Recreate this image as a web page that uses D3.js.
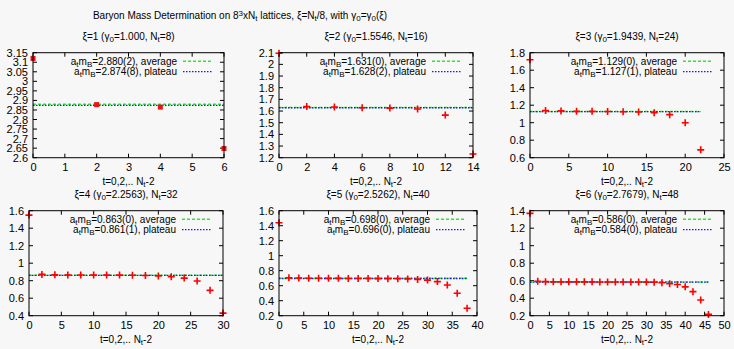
<!DOCTYPE html>
<html><head><meta charset="utf-8">
<script src="https://cdn.jsdelivr.net/npm/d3@7"></script>
<style>
body{margin:0;background:#f7f7f7;}
svg{display:block;font-family:"Liberation Sans",Arial,sans-serif;}
</style></head><body>
<svg id="c" width="734" height="349"></svg>
<script>
// ---- data ----
const xi = [1, 2, 3, 4, 5, 6];
const gamma0 = ["1.000", "1.5546", "1.9439", "2.2563", "2.5262", "2.7679"];
const Nt = [8, 16, 24, 32, 40, 48];
const avgVal = [2.880, 1.631, 1.129, 0.863, 0.698, 0.586];
const avgLabel = ["2.880(2)", "1.631(0)", "1.129(0)", "0.863(0)", "0.698(0)", "0.586(0)"];
const platVal = [2.874, 1.628, 1.127, 0.861, 0.696, 0.584];
const platLabel = ["2.874(8)", "1.628(2)", "1.127(1)", "0.861(1)", "0.696(0)", "0.584(0)"];

const mass1 = [3.12, 2.878, 2.865, 2.648];
const mass2 = [2.095, 1.638, 1.635, 1.628, 1.625, 1.617, 1.565, 1.232];
const mass3 = [1.72, 1.14, 1.135, 1.13, 1.13, 1.128, 1.126, 1.122, 1.115, 1.092, 1.0, 0.69];
const mass4 = [1.55, 0.872, 0.867, 0.866, 0.865, 0.865, 0.864, 0.864, 0.862, 0.86, 0.855, 0.846, 0.83, 0.797, 0.69, 0.43];
const mass5 = [1.44, 0.705, 0.703, 0.70, 0.699, 0.698, 0.698, 0.697, 0.697, 0.696, 0.695, 0.694, 0.693, 0.689, 0.684, 0.675, 0.655, 0.61, 0.50, 0.30];
const mass6 = [1.37, 0.593, 0.589, 0.588, 0.587, 0.587, 0.587, 0.587, 0.587, 0.586, 0.586, 0.586, 0.586, 0.586, 0.585, 0.584, 0.583, 0.576, 0.566, 0.556, 0.53, 0.475, 0.38, 0.215];
const masses = [mass1, mass2, mass3, mass4, mass5, mass6];

const xTicks = [
  [0, 1, 2, 3, 4, 5, 6],
  [0, 2, 4, 6, 8, 10, 12, 14],
  [0, 5, 10, 15, 20, 25],
  [0, 5, 10, 15, 20, 25, 30],
  [0, 5, 10, 15, 20, 25, 30, 35, 40],
  [0, 5, 10, 15, 20, 25, 30, 35, 40, 45, 50]
];
const yTicks = [
  [2.6, 2.65, 2.7, 2.75, 2.8, 2.85, 2.9, 2.95, 3, 3.05, 3.1, 3.15],
  [1.2, 1.3, 1.4, 1.5, 1.6, 1.7, 1.8, 1.9, 2, 2.1],
  [0.6, 0.8, 1, 1.2, 1.4, 1.6, 1.8],
  [0.4, 0.6, 0.8, 1, 1.2, 1.4, 1.6],
  [0.2, 0.4, 0.6, 0.8, 1, 1.2, 1.4, 1.6],
  [0.2, 0.4, 0.6, 0.8, 1, 1.2, 1.4]
];

// ---- layout ----
const rects = [
  {l: 33, r: 224, t: 52.7, b: 157.7},
  {l: 279, r: 473, t: 52.7, b: 157.7},
  {l: 530, r: 724, t: 52.7, b: 157.7},
  {l: 29, r: 223, t: 210.7, b: 315.7},
  {l: 279, r: 477, t: 210.7, b: 315.7},
  {l: 530, r: 724, t: 210.7, b: 315.7}
];

const svg = d3.select("#c");
const FS = 10;   // text labels
const TFS = 11;  // tick labels

function sub(textSel, parts) {
  parts.forEach(([t, m]) => {
    const ts = textSel.append("tspan").text(t);
    if (m === "sub") ts.attr("baseline-shift", "-25%").attr("font-size", FS * 0.8);
    if (m === "sup") ts.attr("baseline-shift", "40%").attr("font-size", FS * 0.8);
  });
}

// main title
const mt = svg.append("text").attr("x", 240).attr("y", 19).attr("text-anchor", "middle").attr("font-size", FS).attr("fill", "#000");
sub(mt, [["Baryon Mass Determination on 8", ""], ["3", "sup"], ["xN", ""], ["t", "sub"], [" lattices, \u03be=N", ""], ["t", "sub"], ["/8, with \u03b3", ""], ["0", "sub"], ["=\u03b3", ""], ["0", "sub"], ["(\u03be)", ""]]);

rects.forEach((R, i) => {
  const data = masses[i];
  const xDom = [xTicks[i][0], xTicks[i][xTicks[i].length - 1]];
  const yDom = [yTicks[i][0], yTicks[i][yTicks[i].length - 1]];
  const x = d3.scaleLinear().domain(xDom).range([R.l, R.r]);
  const y = d3.scaleLinear().domain(yDom).range([R.b, R.t]);
  const g = svg.append("g");
  const cx = (R.l + R.r) / 2;

  // panel title
  const tt = g.append("text").attr("x", cx).attr("y", R.t - 13).attr("text-anchor", "middle").attr("font-size", FS);
  if (i < 3) {
    sub(tt, [["\u03be=" + xi[i] + " (\u03b3", ""], ["0", "sub"], ["=" + gamma0[i] + ", N", ""], ["t", "sub"], ["=" + Nt[i] + ")", ""]]);
  } else {
    sub(tt, [["\u03be=" + xi[i] + " (\u03b3", ""], ["0", "sub"], ["=" + gamma0[i] + "), N", ""], ["t", "sub"], ["=" + Nt[i], ""]]);
  }
  // x label
  const xl = g.append("text").attr("x", cx).attr("y", R.b + 27.5).attr("text-anchor", "middle").attr("font-size", FS);
  sub(xl, [["t=0,2,.. N", ""], ["t", "sub"], ["-2", ""]]);

  // axes
  const ax = d3.axisBottom(x).tickValues(xTicks[i]).tickSize(0).tickPadding(6).tickFormat(d => String(d));
  const axG = g.append("g").attr("transform", `translate(0,${R.b})`).call(ax);
  const ay = d3.axisLeft(y).tickValues(yTicks[i]).tickSize(0).tickPadding(5).tickFormat(d => String(+d.toFixed(2)));
  const ayG = g.append("g").attr("transform", `translate(${R.l},0)`).call(ay);
  [axG, ayG].forEach(a => {
    a.select(".domain").remove();
    a.selectAll("text").attr("font-size", TFS).attr("fill", "#000").attr("font-family", "Liberation Sans, Arial, sans-serif");
  });

  // inward tick marks on all sides
  const tl = 4;
  g.selectAll(".xt").data(xTicks[i]).enter().append("path")
    .attr("d", d => `M${x(d)},${R.b}v${-tl}M${x(d)},${R.t}v${tl}`)
    .attr("stroke", "#000").attr("stroke-width", 1);
  g.selectAll(".yt").data(yTicks[i]).enter().append("path")
    .attr("d", d => `M${R.l},${y(d)}h${tl}M${R.r},${y(d)}h${-tl}`)
    .attr("stroke", "#000").attr("stroke-width", 1);

  // fit lines, span t=0 .. Nt-2
  const tEnd = Nt[i] - 2;
  g.append("line").attr("x1", x(0)).attr("x2", x(tEnd)).attr("y1", y(avgVal[i])).attr("y2", y(avgVal[i]))
    .attr("stroke", "#2ee82e").attr("stroke-width", 1.5).attr("stroke-dasharray", "3,2");
  g.append("line").attr("x1", x(0)).attr("x2", x(tEnd)).attr("y1", y(platVal[i])).attr("y2", y(platVal[i]))
    .attr("stroke", "#1a1aee").attr("stroke-width", 1.3).attr("stroke-dasharray", "1.5,1.5");

  // points
  const pts = data.map((v, k) => ({t: 2 * k, v}));
  if (i === 0) {
    g.selectAll(".pt").data(pts).enter().append("rect")
      .attr("x", d => x(d.t) - 2.5).attr("y", d => y(d.v) - 2.5).attr("width", 5).attr("height", 5)
      .attr("fill", "#ee1111");
  } else {
    g.selectAll(".pt").data(pts).enter().append("path")
      .attr("d", d => `M${x(d.t) - 3.5},${y(d.v)}h7M${x(d.t)},${y(d.v) - 3.5}v7`)
      .attr("stroke", "#ff0000").attr("stroke-width", 1.6).attr("fill", "none");
  }

  // legend
  const lr = R.r - 12, ll = R.r - 41, tx = R.r - 47;
  const rows = [[avgLabel[i] + ", average", "#2ee82e", "3,2", 1.5], [platLabel[i] + ", plateau", "#1a1aee", "1.5,1.5", 1.3]];
  rows.forEach((rw, k) => {
    const yy = R.t + 8.5 + k * 10.5;
    const lt = g.append("text").attr("x", tx).attr("y", yy + 3.5).attr("text-anchor", "end").attr("font-size", FS);
    sub(lt, [["a", ""], ["t", "sub"], ["m", ""], ["B", "sub"], ["=" + rw[0], ""]]);
    g.append("line").attr("x1", ll).attr("x2", lr).attr("y1", yy).attr("y2", yy)
      .attr("stroke", rw[1]).attr("stroke-width", rw[3]).attr("stroke-dasharray", rw[2]);
  });

  // border
  g.append("rect").attr("x", R.l).attr("y", R.t).attr("width", R.r - R.l).attr("height", R.b - R.t)
    .attr("fill", "none").attr("stroke", "#000").attr("stroke-width", 1);
});
</script>
</body></html>
